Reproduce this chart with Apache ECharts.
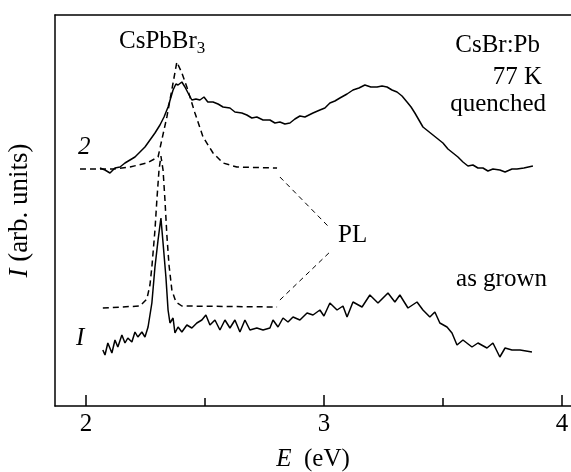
<!DOCTYPE html>
<html>
<head>
<meta charset="utf-8">
<script src="https://cdn.jsdelivr.net/npm/echarts@6/dist/echarts.min.js"></script>
<style>
html, body { margin: 0; padding: 0; background: #fff; }
#chart { width: 571px; height: 472px; }
</style>
</head>
<body>
<div id="chart"></div>
<script>
// energy (eV), intensity (arb. units)
const quenched = [
  [2.059, 238], [2.080, 236], [2.101, 233], [2.122, 238], [2.143, 239], [2.164, 243], [2.185, 246],
  [2.206, 249], [2.227, 254], [2.248, 259], [2.269, 266], [2.290, 273], [2.311, 281], [2.328, 289],
  [2.345, 299], [2.366, 316], [2.378, 322], [2.387, 321], [2.403, 324], [2.416, 319], [2.429, 313],
  [2.445, 306], [2.462, 307], [2.479, 306], [2.496, 309], [2.512, 304], [2.534, 304], [2.555, 302],
  [2.576, 299], [2.605, 298], [2.626, 294], [2.655, 293], [2.676, 291], [2.697, 288], [2.718, 289],
  [2.744, 286], [2.773, 286], [2.794, 283], [2.815, 284], [2.836, 282], [2.857, 283], [2.878, 287],
  [2.899, 290], [2.920, 289], [2.954, 293], [2.983, 296], [3.004, 298], [3.025, 303], [3.046, 305],
  [3.067, 308], [3.097, 312], [3.122, 316], [3.147, 318], [3.172, 321], [3.197, 319], [3.223, 319],
  [3.244, 320], [3.265, 319], [3.286, 316], [3.307, 314], [3.328, 310], [3.349, 304], [3.366, 299],
  [3.382, 293], [3.399, 286], [3.416, 279], [3.437, 275], [3.458, 271], [3.479, 267], [3.500, 263],
  [3.521, 257], [3.542, 253], [3.563, 249], [3.584, 244], [3.605, 240], [3.626, 241], [3.647, 238],
  [3.668, 238], [3.689, 235], [3.710, 237], [3.739, 236], [3.761, 234], [3.790, 237], [3.811, 237],
  [3.840, 238], [3.878, 240]
];
const quenchedPL = [
  [1.975, 237], [2.113, 237], [2.185, 239], [2.256, 243], [2.303, 249], [2.340, 289], [2.366, 323],
  [2.382, 344], [2.387, 345], [2.403, 333], [2.424, 319], [2.458, 293], [2.492, 269], [2.534, 253],
  [2.576, 243], [2.634, 239], [2.803, 238]
];
const grown = [
  [2.071, 56], [2.080, 51], [2.092, 63], [2.109, 53], [2.122, 66], [2.134, 59], [2.151, 71],
  [2.164, 63], [2.176, 68], [2.193, 64], [2.206, 74], [2.218, 69], [2.235, 74], [2.248, 69],
  [2.261, 79], [2.277, 103], [2.290, 139], [2.303, 166], [2.315, 188], [2.324, 163], [2.336, 129],
  [2.345, 96], [2.353, 83], [2.366, 88], [2.374, 73], [2.387, 79], [2.403, 74], [2.424, 81],
  [2.445, 78], [2.466, 83], [2.487, 86], [2.504, 91], [2.521, 81], [2.542, 86], [2.563, 76],
  [2.584, 86], [2.605, 78], [2.626, 86], [2.647, 74], [2.668, 86], [2.689, 76], [2.718, 78],
  [2.744, 76], [2.773, 78], [2.786, 86], [2.807, 79], [2.828, 88], [2.849, 84], [2.870, 89],
  [2.899, 86], [2.929, 93], [2.954, 91], [2.983, 96], [3.000, 90], [3.025, 103], [3.055, 96],
  [3.080, 100], [3.097, 89], [3.122, 104], [3.160, 99], [3.193, 111], [3.227, 103], [3.269, 113],
  [3.298, 104], [3.319, 111], [3.353, 98], [3.391, 104], [3.416, 96], [3.445, 89], [3.466, 94],
  [3.487, 83], [3.517, 79], [3.538, 73], [3.559, 61], [3.584, 66], [3.622, 59], [3.647, 63],
  [3.685, 58], [3.710, 63], [3.739, 49], [3.761, 58], [3.790, 56], [3.824, 56], [3.874, 54]
];
const grownPL = [
  [2.071, 98], [2.227, 100], [2.256, 107], [2.269, 121], [2.277, 139], [2.290, 176], [2.298, 206],
  [2.307, 236], [2.315, 250], [2.324, 236], [2.332, 206], [2.340, 171], [2.349, 141], [2.361, 116],
  [2.378, 104], [2.403, 100], [2.803, 99]
];
// dashed pointers from the "PL" label to the two PL curves
const leaders = [
  [[2.815, 229], [3.025, 178]],
  [[2.815, 106], [3.025, 154]]
];
const majorTicks = [2, 3, 4];
const minorTicks = [2.5, 3.5];

const font = '"Liberation Serif", "Times New Roman", serif';
const chart = echarts.init(document.getElementById('chart'));

function curve(data, dashed) {
  return {
    type: 'line',
    data: data,
    showSymbol: false,
    animation: false,
    lineStyle: { color: '#000', width: 1.5, type: dashed ? [6, 4] : 'solid' }
  };
}

const pl = curve(quenchedPL, true);
pl.markLine = {
  silent: true,
  symbol: 'none',
  label: { show: false },
  lineStyle: { color: '#000', width: 1, type: [5, 4] },
  data: leaders.map(l => [{ coord: l[0] }, { coord: l[1] }])
};

const textStyle = { fontFamily: font, fontSize: 25, fill: '#000' };

chart.setOption({
  animation: false,
  grid: { left: 55, right: 0, top: 15, bottom: 66, outerBoundsMode: 'none', containLabel: false },
  xAxis: [
    {
      type: 'value', min: 1.87, max: 4.038, position: 'bottom',
      name: '{i|E}  (eV)', nameLocation: 'middle', nameGap: 41,
      nameTextStyle: {
        fontFamily: font, fontSize: 25, color: '#000',
        rich: { i: { fontFamily: font, fontSize: 25, fontStyle: 'italic', color: '#000' } }
      },
      axisLine: { lineStyle: { color: '#000', width: 1.5 } },
      axisTick: { inside: true, length: 11, customValues: majorTicks, lineStyle: { color: '#000', width: 1.5 } },
      axisLabel: { customValues: majorTicks, fontFamily: font, fontSize: 25, color: '#000', margin: 6 },
      splitLine: { show: false }
    },
    {
      type: 'value', min: 1.87, max: 4.038, position: 'bottom',
      axisLine: { show: false },
      axisTick: { inside: true, length: 8, customValues: minorTicks, lineStyle: { color: '#000', width: 1.5 } },
      axisLabel: { show: false },
      splitLine: { show: false }
    },
    {
      type: 'value', min: 1.87, max: 4.038, position: 'top',
      axisLine: { lineStyle: { color: '#000', width: 1.5 } },
      axisTick: { show: false },
      axisLabel: { show: false },
      splitLine: { show: false }
    }
  ],
  yAxis: {
    type: 'value', min: 0, max: 391,
    name: '{i|I} (arb. units)', nameLocation: 'middle', nameGap: 22,
    nameTextStyle: {
      fontFamily: font, fontSize: 27, color: '#000',
      rich: { i: { fontFamily: font, fontSize: 27, fontStyle: 'italic', color: '#000' } }
    },
    axisLine: { show: true, lineStyle: { color: '#000', width: 1.5 } },
    axisTick: { show: false },
    axisLabel: { show: false },
    splitLine: { show: false }
  },
  series: [curve(quenched, false), pl, curve(grown, false), curve(grownPL, true)],
  graphic: [
    {
      type: 'text', left: 119, top: 29,
      style: {
        text: '{a|CsPbBr}{s|3}',
        rich: {
          a: { fontFamily: font, fontSize: 25, fill: '#000' },
          s: { fontFamily: font, fontSize: 17, fill: '#000', padding: [15, 0, 0, 0] }
        }
      }
    },
    { type: 'text', right: 31, top: 33, style: Object.assign({ text: 'CsBr:Pb' }, textStyle) },
    { type: 'text', right: 29, top: 65, style: Object.assign({ text: '77 K' }, textStyle) },
    { type: 'text', right: 25, top: 92, style: Object.assign({ text: 'quenched' }, textStyle) },
    { type: 'text', left: 78, top: 135, style: Object.assign({ text: '2', fontStyle: 'italic' }, textStyle) },
    { type: 'text', left: 338, top: 223, style: Object.assign({ text: 'PL' }, textStyle) },
    { type: 'text', right: 24, top: 267, style: Object.assign({ text: 'as grown' }, textStyle) },
    { type: 'text', left: 76, top: 326, style: Object.assign({ text: 'I', fontStyle: 'italic' }, textStyle) }
  ]
});
</script>
</body>
</html>
